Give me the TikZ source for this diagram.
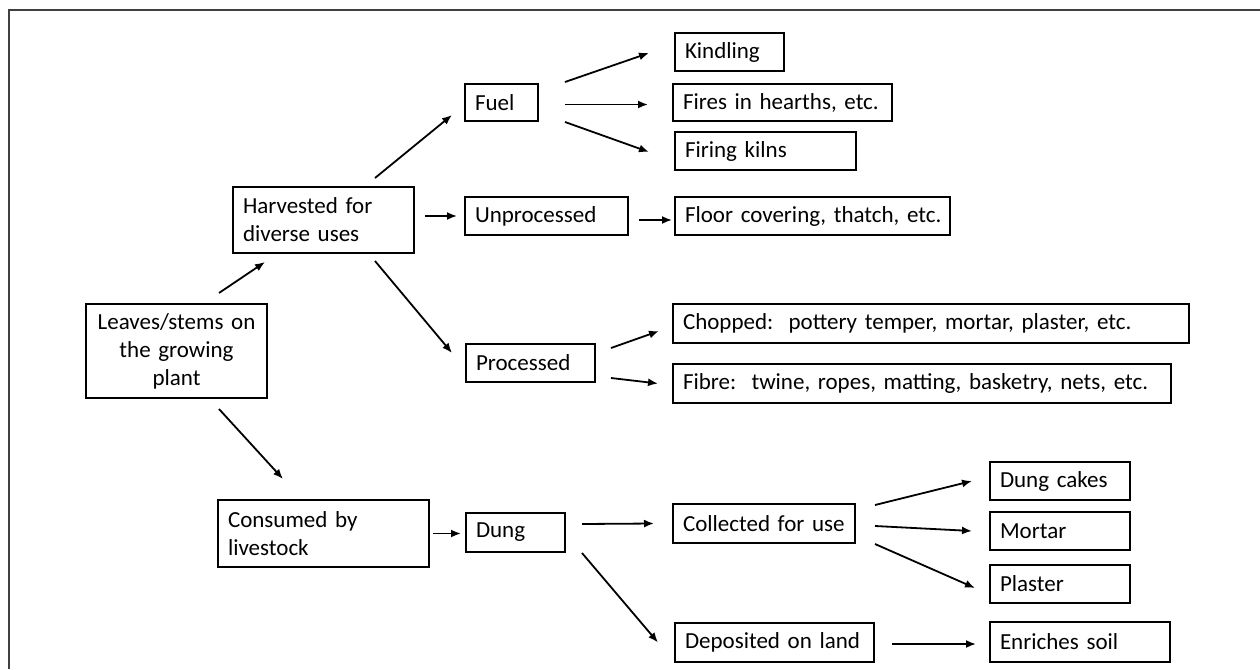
\documentclass[tikz,border=0pt]{standalone}
\usepackage{fontspec}
\setmainfont{Carlito}
\usetikzlibrary{arrows.meta}
\begin{document}
\begin{tikzpicture}[x=1pt,y=-1pt,
  every node/.style={font=\fontsize{23}{28}\selectfont},
  box/.style={draw,line width=2pt,anchor=north west,inner xsep=10pt,inner ysep=0pt,
    minimum height=38pt,text width=#1,align=left},
  arr/.style={line width=1.8pt,-{Latex[length=10pt,width=8pt]}}]
  \useasboundingbox (0,0) rectangle (1260,669);
  \draw[line width=1.5pt,black!75] (9,669) -- (9,10) -- (1260,10);
  % left column
  \node[box=161,align=center,minimum height=94pt] (leaves) at (85,303) {Leaves/stems on\\the growing\\plant};
  \node[box=161,minimum height=66pt] (harv) at (232,186) {Harvested for\\diverse uses};
  \node[box=191,minimum height=67pt] (cons) at (217,499) {Consumed by\\livestock};
  % middle column
  \node[box=53,minimum height=37pt] (fuel) at (464,83) {Fuel};
  \node[box=143] (unproc) at (464,196) {Unprocessed};
  \node[box=109] (proc) at (465,343) {Processed};
  \node[box=79,minimum height=39pt] (dung) at (465,512) {Dung};
  % right column
  \node[box=89] (kind) at (674,32) {Kindling};
  \node[box=199,minimum height=37pt] (fires) at (672,83) {\mbox{Fires in hearths, etc.}};
  \node[box=161] (kilns) at (674,131) {Firing kilns};
  \node[box=255] (floor) at (674,196) {\mbox{Floor covering, thatch, etc.}};
  \node[box=496,minimum height=39pt] (chop) at (672,303) {\mbox{Chopped:\ \ pottery temper, mortar, plaster, etc.}};
  \node[box=478,minimum height=39pt] (fibre) at (672,363) {\mbox{Fibre:\ \ twine, ropes, matting, basketry, nets, etc.}};
  \node[box=162,minimum height=39pt] (coll) at (672,503) {\mbox{Collected for use}};
  \node[box=179,minimum height=39pt] (depo) at (674,622) {\mbox{Deposited on land}};
  % far right
  \node[box=120] (cakes) at (989,461) {Dung cakes};
  \node[box=120] (mortar) at (989,511) {Mortar};
  \node[box=120] (plaster) at (989,564) {Plaster};
  \node[box=160,minimum height=40pt] (soil) at (989,621) {Enriches soil};
  % arrows
  \draw[arr] ([shift={(-49,-10)}]leaves.north east) -- ([shift={(33,8)}]harv.south west);
  \draw[arr] ([shift={(-49,10)}]leaves.south east) -- ([shift={(66,-20)}]cons.north west);
  \draw[arr] ([shift={(-40,-8)}]harv.north east) -- ([shift={(-12,-7)}]fuel.south west);
  \draw[arr] ([shift={(10,-4)}]harv.east) -- ([shift={(-7,0)}]unproc.west);
  \draw[arr] ([shift={(-40,7)}]harv.south east) -- ([shift={(-13,10)}]proc.north west);
  \draw[arr] ([shift={(26,-1)}]fuel.north east) -- ([shift={(-25,1)}]kind.west);
  \draw[arr] ([shift={(26,2)}]fuel.east) -- ([shift={(-24,2)}]fires.west);
  \draw[arr] ([shift={(26,0)}]fuel.south east) -- ([shift={(-25,1)}]kilns.west);
  \draw[arr] ([shift={(10,4)}]unproc.east) -- ([shift={(-2,4)}]floor.west);
  \draw[arr] ([shift={(15,-15)}]proc.east) -- ([shift={(-13,7.5)}]chop.west);
  \draw[arr] ([shift={(15,15)}]proc.east) -- ([shift={(-14,0)}]fibre.west);
  \draw[arr] ([shift={(3,0)}]cons.east) -- ([shift={(-4,1)}]dung.west);
  \draw[arr] ([shift={(16,-8.5)}]dung.east) -- ([shift={(-18,0)}]coll.west);
  \draw[arr] ([shift={(16,0)}]dung.south east) -- ([shift={(-16,0)}]depo.west);
  \draw[arr] ([shift={(19,-18.5)}]coll.east) -- ([shift={(-17,0)}]cakes.west);
  \draw[arr] ([shift={(19,2.5)}]coll.east) -- ([shift={(-17,0)}]mortar.west);
  \draw[arr] ([shift={(19,0)}]coll.south east) -- ([shift={(-14,4)}]plaster.west);
  \draw[arr] ([shift={(17,1.5)}]depo.east) -- ([shift={(-13,2)}]soil.west);
\end{tikzpicture}
\end{document}
